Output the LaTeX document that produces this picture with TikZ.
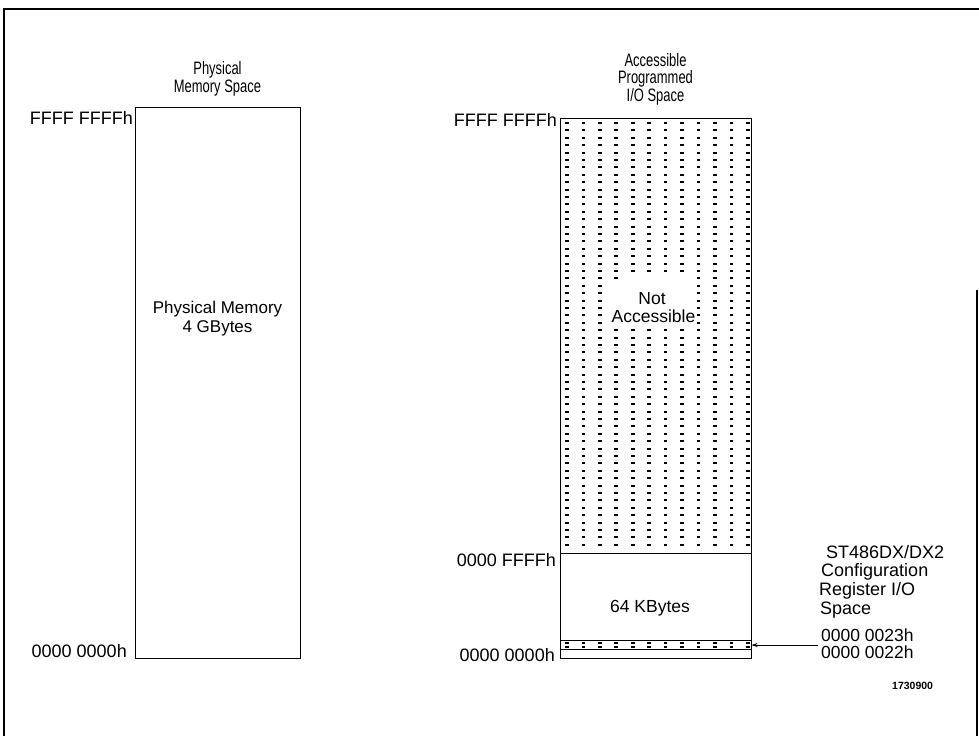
\documentclass[tikz,border=0pt]{standalone}
\usepackage{fontspec}
\setmainfont{Liberation Sans}
\newfontfamily\headfont[FakeStretch=0.72]{Liberation Sans}
\usetikzlibrary{arrows.meta}
\begin{document}
\begin{tikzpicture}[x=1pt,y=-1pt,
  lbl/.style={inner sep=0pt, font=\fontsize{18}{18}\selectfont},
  body/.style={inner sep=0pt, font=\fontsize{17.5}{17.5}\selectfont},
  hd/.style={inner sep=0pt, font=\headfont\fontsize{18}{18}\selectfont},
  frameline/.style={line width=1.1pt},
  boxline/.style={draw, line width=0.9pt, inner sep=0pt, outer sep=0pt},
  divline/.style={line width=0.9pt},
  dotmark/.style={fill=black}]
\useasboundingbox (0,0) rectangle (979,736);
% outer frame
\draw[frameline] (4,736) -- (4,9) -- (979,9);
\draw[frameline] (977,290) -- (977,736);

% left box
\node[boxline, minimum width=165pt, minimum height=550.5pt, anchor=north west] (phys) at (135,107.5) {};
% right box
\node[boxline, minimum width=191pt, minimum height=540pt, anchor=north west] (io) at (560,118) {};

% dot pattern in upper part of right box
\foreach \r in {0,...,57}{
  \foreach \c in {0,...,11}{
    \fill[dotmark] (565.1+\c*16.45, 122.0+\r*7.4) rectangle ++(3.6,2);
  }
}
% mask behind text
\fill[white] (625,275) rectangle (690.5,282);
\fill[white] (608,282) rectangle (690.5,326);

% divider lines
\coordinate (d1w) at (560,553); \coordinate (d1e) at (751,553);
\coordinate (d2w) at (560,640); \coordinate (d2e) at (751,640);
\coordinate (d3w) at (560,649); \coordinate (d3e) at (751,649);
\draw[divline] (d1w) -- (d1e);
\draw[divline] (d2w) -- (d2e);
\draw[divline] (d3w) -- (d3e);
% dots in config band
\foreach \yy in {641.5,645.5}{
  \foreach \c in {0,...,11}{
    \fill[dotmark] (565.1+\c*16.45, \yy) rectangle ++(3.6,2);
  }
}

% headings
\node[hd, anchor=base] (h1a) at (217.5,74) {Physical};
\node[hd, anchor=base] (h1b) at (217.5,92) {Memory Space};
\node[hd, anchor=base] (h2a) at (655.5,66) {Accessible};
\node[hd, anchor=base] (h2b) at (655.5,83.5) {Programmed};
\node[hd, anchor=base] (h2c) at (655.5,101.5) {I/O Space};

% left labels
\node[lbl, anchor=base east] (lf) at (133,124.5) {FFFF FFFFh};
\node[lbl, anchor=base east] (l0) at (127,657) {0000 0000h};
\node[body, anchor=base, font=\fontsize{17}{17}\selectfont] (pm1) at (217.5,313) {Physical Memory};
\node[body, anchor=base, font=\fontsize{17}{17}\selectfont] (pm2) at (217.5,332.5) {4 GBytes};

% right labels
\node[lbl, anchor=base east] (rf) at (557,126) {FFFF FFFFh};
\node[lbl, anchor=base east] (rk) at (556,566.5) {0000 FFFFh};
\node[lbl, anchor=base east] (r0) at (555,661) {0000 0000h};
\node[body, anchor=base] (na1) at (652,304) {Not};
\node[body, anchor=base] (na2) at (653.5,322.7) {Accessible};
\node[body, anchor=base] (kb) at (650,612) {64 KBytes};

\node[lbl, anchor=base west] (c1) at (826,558) {ST486DX/DX2};
\node[lbl, anchor=base west] (c2) at (821,576.5) {Configuration};
\node[lbl, anchor=base west] (c3) at (819,595) {Register I/O};
\node[lbl, anchor=base west] (c4) at (820,614) {Space};
\node[lbl, anchor=base west, font=\fontsize{17.5}{17.5}\selectfont] (a23) at (821,641.5) {0000 0023h};
\node[lbl, anchor=base west, font=\fontsize{17.5}{17.5}\selectfont] (a22) at (821,658.5) {0000 0022h};
\node[inner sep=0pt, anchor=base west, font=\bfseries\fontsize{10.5}{10.5}\selectfont] (fig) at (892,689) {1730900};

% arrow
\coordinate (arrs) at (818,645);
\coordinate (arre) at (751.5,645);
\draw[line width=0.8pt, -{Stealth[length=6pt,width=4pt]}] (arrs) -- (arre);
\end{tikzpicture}
\end{document}
